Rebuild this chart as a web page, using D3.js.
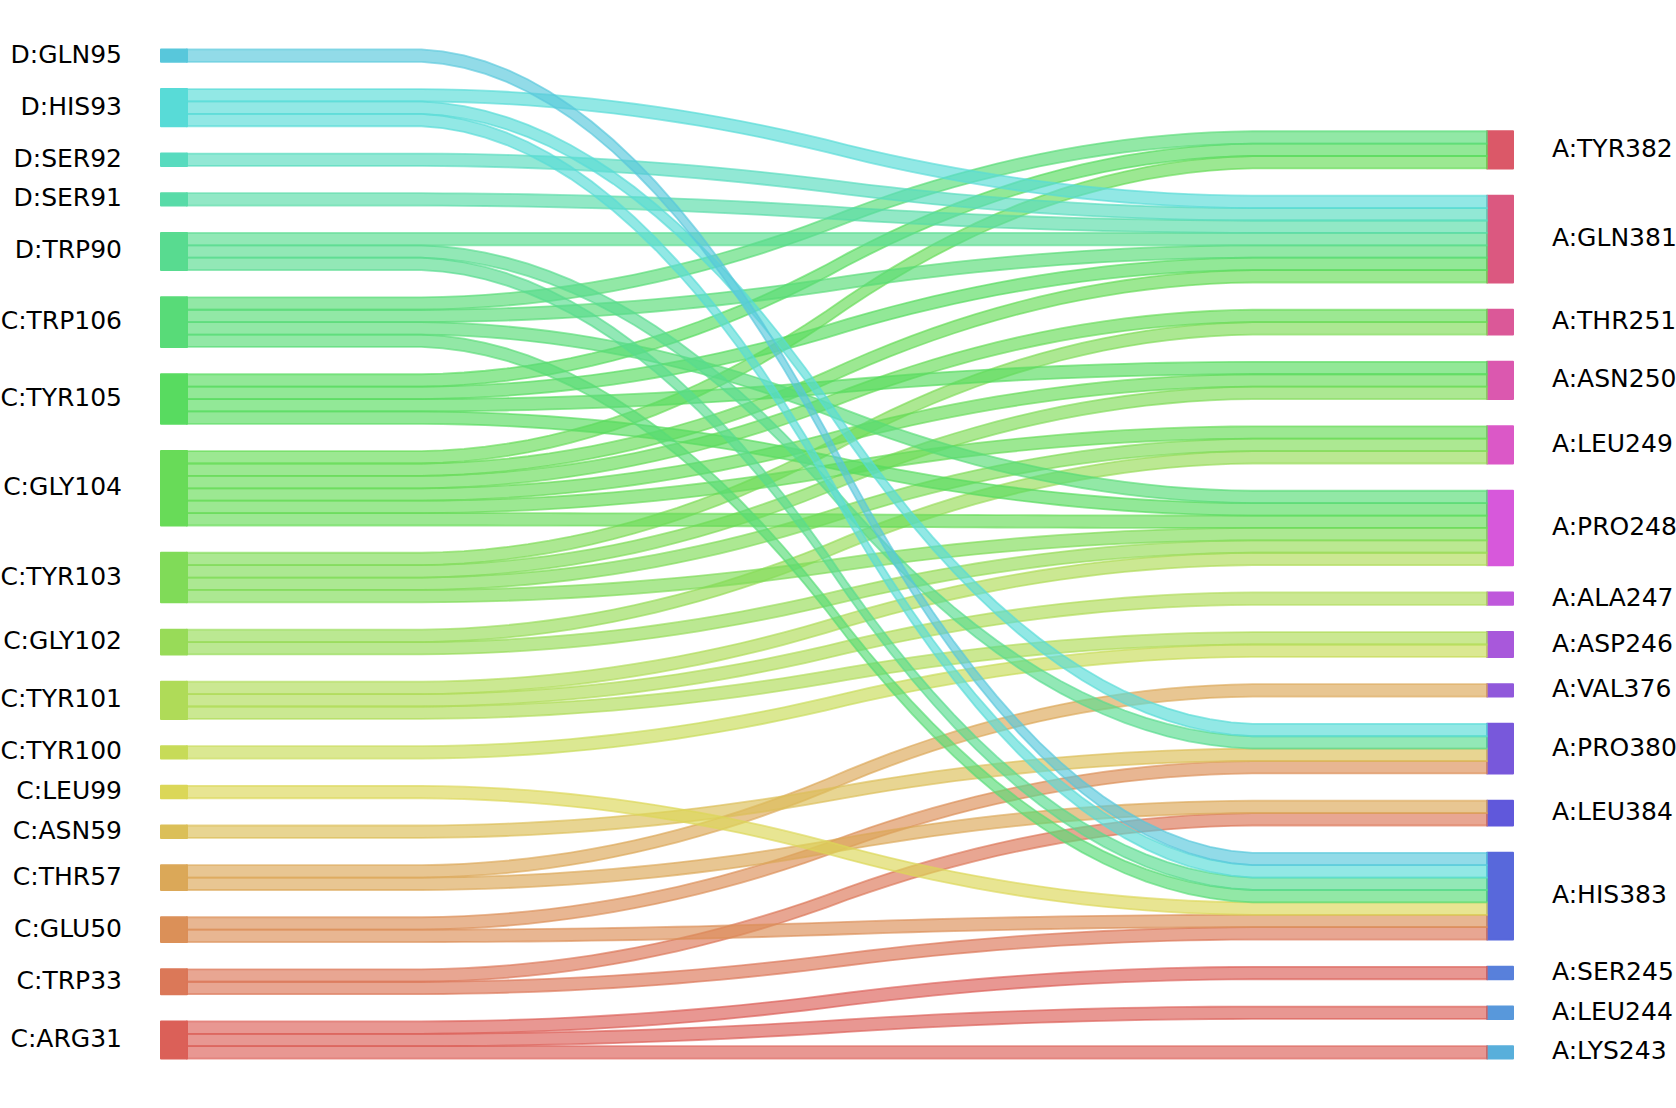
<!DOCTYPE html>
<html><head><meta charset="utf-8">
<script src="https://cdn.jsdelivr.net/npm/d3@7"></script>
<style>
body{margin:0;background:#fff}
text{font-family:"DejaVu Sans",sans-serif;font-size:25px;fill:#000}
</style>
</head><body>
<svg id="chart" width="1676" height="1108"></svg>
<script>
// Nodes, listed bottom to top (pySankey order)
const leftLabels = ["C:ARG31","C:TRP33","C:GLU50","C:THR57","C:ASN59","C:LEU99","C:TYR100","C:TYR101","C:GLY102","C:TYR103","C:GLY104","C:TYR105","C:TRP106","D:TRP90","D:SER91","D:SER92","D:HIS93","D:GLN95"];
const rightLabels = ["A:LYS243","A:LEU244","A:SER245","A:HIS383","A:LEU384","A:PRO380","A:VAL376","A:ASP246","A:ALA247","A:PRO248","A:LEU249","A:ASN250","A:THR251","A:GLN381","A:TYR382"];

// Links (one contact each)
const linkSource = [
  "C:ARG31","C:ARG31","C:ARG31",
  "C:TRP33","C:TRP33",
  "C:GLU50","C:GLU50",
  "C:THR57","C:THR57",
  "C:ASN59",
  "C:LEU99",
  "C:TYR100",
  "C:TYR101","C:TYR101","C:TYR101",
  "C:GLY102","C:GLY102",
  "C:TYR103","C:TYR103","C:TYR103","C:TYR103",
  "C:GLY104","C:GLY104","C:GLY104","C:GLY104","C:GLY104","C:GLY104",
  "C:TYR105","C:TYR105","C:TYR105","C:TYR105",
  "C:TRP106","C:TRP106","C:TRP106","C:TRP106",
  "D:TRP90","D:TRP90","D:TRP90",
  "D:SER91",
  "D:SER92",
  "D:HIS93","D:HIS93","D:HIS93",
  "D:GLN95"
];
const linkTarget = [
  "A:SER245","A:LEU244","A:LYS243",
  "A:LEU384","A:HIS383",
  "A:PRO380","A:HIS383",
  "A:VAL376","A:LEU384",
  "A:PRO380",
  "A:HIS383",
  "A:ASP246",
  "A:PRO248","A:ALA247","A:ASP246",
  "A:LEU249","A:PRO248",
  "A:THR251","A:ASN250","A:LEU249","A:PRO248",
  "A:TYR382","A:GLN381","A:THR251","A:ASN250","A:LEU249","A:PRO248",
  "A:TYR382","A:GLN381","A:ASN250","A:PRO248",
  "A:TYR382","A:GLN381","A:PRO248","A:HIS383",
  "A:GLN381","A:PRO380","A:HIS383",
  "A:GLN381",
  "A:GLN381",
  "A:GLN381","A:PRO380","A:HIS383",
  "A:HIS383"
];
const linkWeight = linkSource.map(() => 1);

// ---------- layout ----------
const svg = d3.select("#chart");
const total = d3.sum(linkWeight);
const gap = 0.05 * total;

function stack(labels, key) {
  const out = {};
  let top = 0;
  labels.forEach((lab, i) => {
    const w = d3.sum(linkWeight.filter((_, k) => (key === "L" ? linkSource[k] : linkTarget[k]) === lab));
    const bottom = i === 0 ? 0 : top + gap;
    out[lab] = {w, bottom, top: bottom + w, cur: bottom};
    top = bottom + w;
  });
  return {nodes: out, top};
}
const L = stack(leftLabels, "L");
const R = stack(rightLabels, "R");
const yMax = Math.max(L.top, R.top);

const x = d3.scaleLinear().domain([0, 1]).range([187, 1487]);
const y = d3.scaleLinear().domain([0, yMax]).range([1058.6, 49.4]);

const nColors = leftLabels.length + rightLabels.length;
const allLabels = leftLabels.concat(rightLabels);
const color = {};
allLabels.forEach((lab, i) => {
  let h = (i / nColors + 0.01) % 1;
  color[lab] = d3.hsl(h * 360, 0.65, 0.6).formatHex();
});

// smoothing kernel (pySankey double box convolution)
function conv(a) {
  const out = [];
  for (let i = 0; i + 20 <= a.length; i++) out.push(d3.sum(a.slice(i, i + 20)) * 0.05);
  return out;
}
const base = d3.range(100).map(k => (k < 50 ? 0 : 1));
const sm = conv(conv(base));
const nPts = sm.length;

// nodes
const gNodes = svg.append("g");
leftLabels.forEach(lab => {
  const n = L.nodes[lab];
  gNodes.append("rect")
    .attr("x", x(-0.02)).attr("width", x(0) - x(-0.02))
    .attr("y", y(n.top)).attr("height", y(n.bottom) - y(n.top))
    .attr("fill", color[lab]).attr("stroke", color[lab]).attr("stroke-width", 2)
    .attr("stroke-linejoin", "round").attr("opacity", 0.99);
});
rightLabels.forEach(lab => {
  const n = R.nodes[lab];
  gNodes.append("rect")
    .attr("x", x(1)).attr("width", x(1.02) - x(1))
    .attr("y", y(n.top)).attr("height", y(n.bottom) - y(n.top))
    .attr("fill", color[lab]).attr("stroke", color[lab]).attr("stroke-width", 2)
    .attr("stroke-linejoin", "round").attr("opacity", 0.99);
});

// links
const area = d3.area()
  .x(d => x(d.t))
  .y0(d => y(d.lo))
  .y1(d => y(d.hi));
const gLinks = svg.append("g");
leftLabels.forEach(ll => {
  rightLabels.forEach(rl => {
    const w = d3.sum(linkWeight.filter((_, k) => linkSource[k] === ll && linkTarget[k] === rl));
    if (w > 0) {
      const ln = L.nodes[ll], rn = R.nodes[rl];
      const yl = ln.cur, yr = rn.cur;
      const pts = sm.map((s, j) => ({
        t: j / (nPts - 1),
        lo: yl + (yr - yl) * s,
        hi: yl + w + (yr - yl) * s
      }));
      gLinks.append("path")
        .attr("d", area(pts))
        .attr("fill", color[ll]).attr("fill-opacity", 0.65)
        .attr("stroke", color[ll]).attr("stroke-opacity", 0.65)
        .attr("stroke-width", 1.8);
      ln.cur += w; rn.cur += w;
    }
  });
});

// labels
const gText = svg.append("g");
leftLabels.forEach(lab => {
  const n = L.nodes[lab];
  gText.append("text").attr("x", x(-0.05)).attr("y", y(n.bottom + n.w / 2) + 7)
    .attr("text-anchor", "end").text(lab);
});
rightLabels.forEach(lab => {
  const n = R.nodes[lab];
  gText.append("text").attr("x", x(1.05)).attr("y", y(n.bottom + n.w / 2) + 7)
    .attr("text-anchor", "start").text(lab);
});
</script>
</body></html>
